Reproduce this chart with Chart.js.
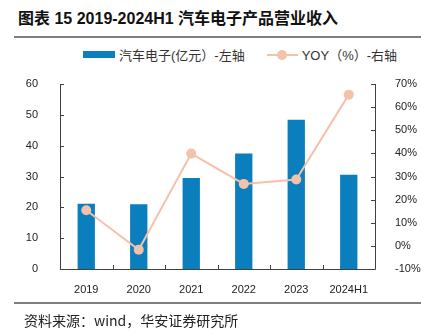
<!DOCTYPE html>
<html>
<head>
<meta charset="utf-8">
<script src="https://cdn.jsdelivr.net/npm/chart.js@4/dist/chart.umd.min.js"></script>
<style>
  body { margin: 0; background: #fff; font-family: "Liberation Sans", "Noto Sans CJK SC", sans-serif; }
  #wrap { position: relative; width: 421px; height: 335px; overflow: hidden; }
  #chart { position: absolute; left: 0; top: 0; }
  .title { position: absolute; left: 18px; top: 5px; font-size: 16px; font-weight: bold; color: #111;
           font-family: "Liberation Sans", "Noto Sans CJK SC", sans-serif; white-space: nowrap; }
  .rule { position: absolute; left: 14px; right: 0; height: 2px; background: #7f7f7f; }
  .source { position: absolute; left: 24px; top: 310px; font-size: 14px; color: #222;
            font-family: "Noto Sans CJK SC", sans-serif; white-space: nowrap; }
  #legend { position: absolute; top: 45px; left: 83px; font-size: 13px; color: #333; white-space: nowrap;
            font-family: "Liberation Sans", "Noto Sans CJK SC", sans-serif; }
  #legend span { display: inline-block; vertical-align: middle; }
</style>
</head>
<body>
<div id="wrap">
  <div class="title">图表 15 2019-2024H1 汽车电子产品营业收入</div>
  <div class="rule" style="top:36px"></div>
  <div id="legend"></div>
  <canvas id="chart" width="421" height="335"></canvas>
  <div class="rule" style="top:302px"></div>
  <div class="source">资料来源：wind，华安证券研究所</div>
</div>
<script>
"use strict";

//=> Data
var years = ['2019', '2020', '2021', '2022', '2023', '2024H1'];
var revenue = [21.2, 21.0, 29.5, 37.5, 48.4, 30.6];
var yoy = [15.4, -1.7, 39.9, 26.8, 28.7, 65.4];
var leftTicks = [0, 10, 20, 30, 40, 50, 60];
var rightTicks = [-10, 0, 10, 20, 30, 40, 50, 60, 70];

var barColor = '#0b7fbd';
var lineColor = '#f4c1aa';
var axisColor = '#404040';

//=> Axes with inward ticks
var axisPlugin = {
    id: 'axisLines',
    afterDraw: function (chart) {
        var ctx = chart.ctx;
        var area = chart.chartArea;
        var x = chart.scales.x, yl = chart.scales.y, yr = chart.scales.y1;
        ctx.save();
        ctx.strokeStyle = axisColor;
        ctx.lineWidth = 1;
        ctx.beginPath();
        ctx.moveTo(area.left + 0.5, area.top);
        ctx.lineTo(area.left + 0.5, area.bottom + 0.5);
        ctx.lineTo(area.right + 0.5, area.bottom + 0.5);
        ctx.lineTo(area.right + 0.5, area.top);
        leftTicks.forEach(function (v) {
            var py = Math.round(yl.getPixelForValue(v)) + 0.5;
            ctx.moveTo(area.left, py);
            ctx.lineTo(area.left + 4, py);
        });
        rightTicks.forEach(function (v) {
            var py = Math.round(yr.getPixelForValue(v)) + 0.5;
            ctx.moveTo(area.right, py);
            ctx.lineTo(area.right - 4, py);
        });
        for (var i = 0; i < years.length - 1; i++) {
            var px = Math.round((x.getPixelForValue(i) + x.getPixelForValue(i + 1)) / 2) + 0.5;
            ctx.moveTo(px, area.bottom);
            ctx.lineTo(px, area.bottom - 4);
        }
        ctx.stroke();
        ctx.restore();
    }
};

var tickFont = { family: '"Liberation Sans", Arial, sans-serif', size: 11 };

var ctx = document.getElementById('chart').getContext('2d');
var myChart = new Chart(ctx, {
    type: 'bar',
    data: {
        labels: years,
        datasets: [{
            type: 'line',
            label: 'YOY（%）-右轴',
            data: yoy,
            yAxisID: 'y1',
            borderColor: lineColor,
            backgroundColor: lineColor,
            borderWidth: 2,
            pointRadius: 5,
            pointBorderWidth: 0,
            pointBackgroundColor: lineColor,
            tension: 0,
            order: 0
        }, {
            type: 'bar',
            label: '汽车电子(亿元）-左轴',
            data: revenue,
            yAxisID: 'y',
            backgroundColor: barColor,
            barPercentage: 0.33,
            categoryPercentage: 1,
            order: 1
        }]
    },
    options: {
        responsive: false,
        animation: false,
        layout: { padding: { left: 0, right: 0, top: 84, bottom: 41 } },
        plugins: {
            legend: { display: false },
            tooltip: { enabled: false }
        },
        scales: {
            x: {
                grid: { display: false },
                border: { display: false },
                ticks: { color: '#222', font: tickFont, padding: 6 },
                afterFit: function (s) { s.height = 25; }
            },
            y: {
                position: 'left',
                min: 0, max: 60,
                grid: { display: false },
                border: { display: false },
                ticks: { stepSize: 10, color: '#222', font: tickFont, padding: 14 },
                afterFit: function (s) { s.width = 60; }
            },
            y1: {
                position: 'right',
                min: -10, max: 70,
                grid: { display: false },
                border: { display: false },
                ticks: {
                    stepSize: 10, color: '#222', font: tickFont, padding: 12,
                    callback: function (v) { return v + '%'; }
                },
                afterFit: function (s) { s.width = 46; }
            }
        }
    },
    plugins: [axisPlugin]
});

//=> HTML legend built from datasets
var bar = myChart.data.datasets[1], line = myChart.data.datasets[0];
document.getElementById('legend').innerHTML =
    '<span style="width:32px;height:7px;background:' + barColor + '"></span>' +
    '<span style="margin-left:4px">' + bar.label + '</span>' +
    '<span style="position:relative;width:31px;height:10px;margin-left:22px">' +
        '<span style="position:absolute;left:0;top:4px;width:31px;height:2px;background:' + lineColor + '"></span>' +
        '<span style="position:absolute;left:10px;top:0;width:10px;height:10px;border-radius:5px;background:' + lineColor + '"></span>' +
    '</span>' +
    '<span style="margin-left:4px">' + line.label + '</span>';
</script>
</body>
</html>
